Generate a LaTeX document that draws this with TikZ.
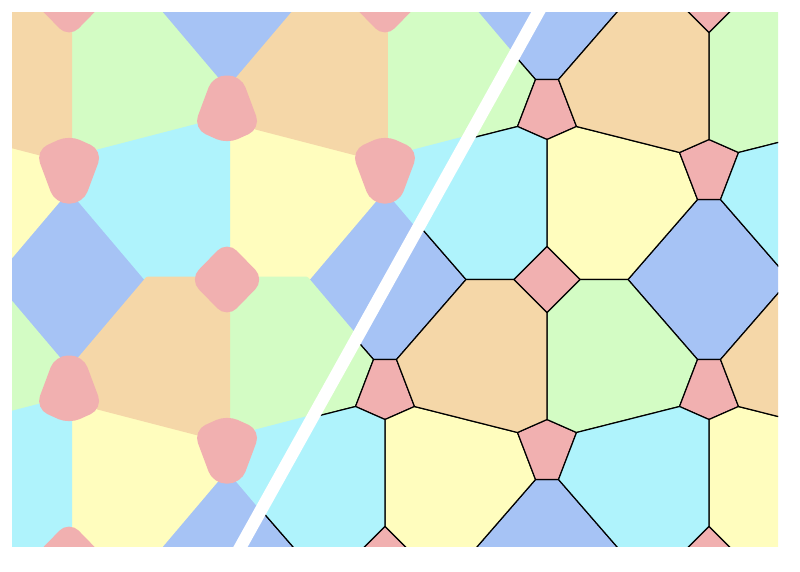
\documentclass[tikz,border=0pt]{standalone}
\definecolor{pinkT}{RGB}{241,176,176}
\definecolor{blueT}{RGB}{166,195,245}
\definecolor{cyanT}{RGB}{175,243,252}
\definecolor{yellowT}{RGB}{255,253,190}
\definecolor{greenT}{RGB}{211,252,196}
\definecolor{orangeT}{RGB}{245,215,168}
\newcommand\bigtiles{%
 \path[tile=blueT] (150.5,-80)--(173.5,-80)--(243,0)--(173.5,80)--(150.5,80)--(81,0)--cycle;
 \path[tile=yellowT] (0,-33)--(33,0)--(81,0)--(150.5,-80)--(132.5,-127)--(29.5,-153)--(0,-140)--cycle;
 \path[tile=cyanT] (0,-33)--(-33,0)--(-81,0)--(-150.5,-80)--(-132.5,-127)--(-29.5,-153)--(0,-140)--cycle;
 \path[tile=greenT] (0,33)--(33,0)--(81,0)--(150.5,80)--(132.5,127)--(29.5,153)--(0,140)--cycle;
 \path[tile=orangeT] (0,33)--(-33,0)--(-81,0)--(-150.5,80)--(-132.5,127)--(-29.5,153)--(0,140)--cycle;
}
\newcommand\pinktiles{%
 \path[ptile] (0,-33)--(33,0)--(0,33)--(-33,0)--cycle;
 \path[ptile] (150.5,-80)--(173.5,-80)--(191.5,-127)--(162,-140)--(132.5,-127)--cycle;
 \path[ptile] (150.5,80)--(173.5,80)--(191.5,127)--(162,140)--(132.5,127)--cycle;
}
\newcommand\alltiles[1]{%
 \foreach \i in {-3,...,2}{\foreach \j in {-1,0,1}{%
  \begin{scope}[shift={({547+324*\i+162*\j},{279.5+280*\j})}]#1\end{scope}}}}
\begin{document}
\begin{tikzpicture}[x=1pt,y=-1pt]
\useasboundingbox (0,0) rectangle (800,571);
\begin{scope}
 \clip (12,12) rectangle (778,546);
 % left (blobby) half
 \begin{scope}
  \clip (0,-20) -- (556.2,-20) -- (216.5,590) -- (0,590) -- cycle;
  \begin{scope}[xshift=9.6pt,xscale=0.975]
   \tikzset{tile/.style={fill=#1},ptile/.style={fill=pinkT}}
   \alltiles{\bigtiles\pinktiles}
   \tikzset{tile/.style={fill=#1,draw=#1,line width=6pt,line join=round}}
   \alltiles{\bigtiles}
   \tikzset{ptile/.style={fill=pinkT,draw=pinkT,line width=8pt,rounded corners=10pt}}
   \alltiles{\pinktiles}
  \end{scope}
 \end{scope}
 % right (polygonal) half
 \begin{scope}
  \clip (556.2,-20) -- (820,-20) -- (820,590) -- (216.5,590) -- cycle;
  \tikzset{tile/.style={fill=#1,draw=black,line width=1.2pt,line join=round},
           ptile/.style={fill=pinkT,draw=black,line width=1.2pt,line join=round}}
  \alltiles{\bigtiles\pinktiles}
 \end{scope}
\end{scope}
% white dividing stripe
\draw[white,line width=12.5pt] (556.2,-20) -- (216.5,590);
\end{tikzpicture}
\end{document}
